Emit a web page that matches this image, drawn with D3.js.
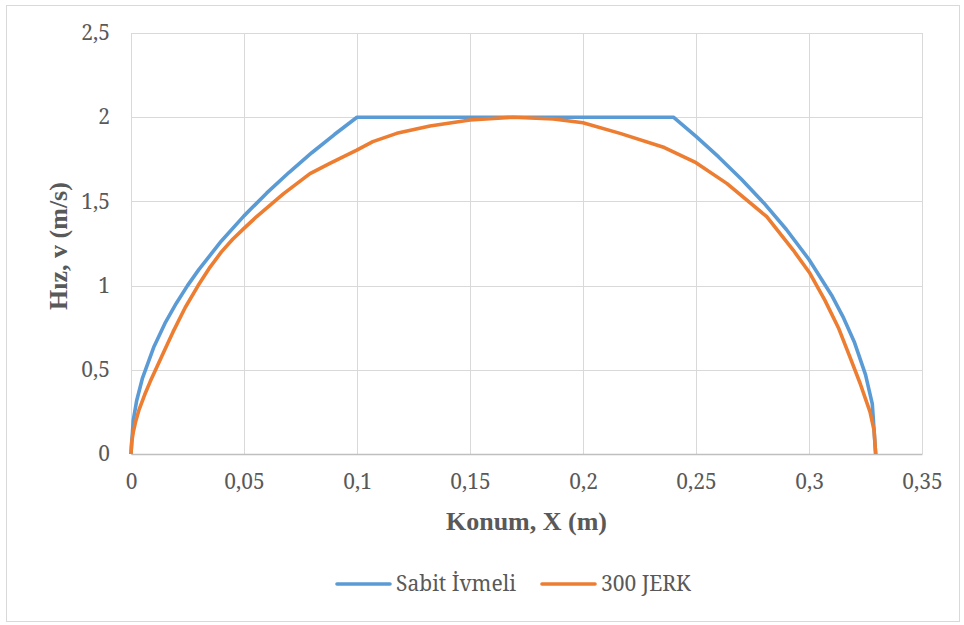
<!DOCTYPE html>
<html>
<head>
<meta charset="utf-8">
<script src="https://cdn.jsdelivr.net/npm/d3@7"></script>
<style>
  body { margin: 0; background: #fff; }
</style>
</head>
<body>
<div id="chart"></div>
<script>
// values
const xTicks = [0, 0.05, 0.1, 0.15, 0.2, 0.25, 0.3, 0.35];
const yTicks = [0, 0.5, 1, 1.5, 2, 2.5];

// Sabit İvmeli (blue)
const sabitX = [0, 0.001, 0.0025, 0.005, 0.01, 0.015, 0.02, 0.025, 0.03, 0.04, 0.05, 0.06, 0.07, 0.08, 0.09, 0.1,
                0.24, 0.25, 0.26, 0.27, 0.28, 0.29, 0.3, 0.31, 0.315, 0.32, 0.325, 0.328, 0.3295];
const sabitV = [0, 0.2, 0.316, 0.447, 0.632, 0.775, 0.894, 1.0, 1.095, 1.265, 1.414, 1.549, 1.673, 1.789, 1.897, 2.0,
                2.0, 1.886, 1.764, 1.633, 1.491, 1.333, 1.155, 0.943, 0.816, 0.667, 0.471, 0.298, 0];

// 300 JERK (orange)
const jerkX = [0, 0.0003, 0.001, 0.002, 0.0035, 0.006, 0.0085, 0.0114, 0.015, 0.0186, 0.024, 0.0297, 0.035, 0.04,
               0.045, 0.05, 0.0556, 0.0674, 0.0792, 0.088, 0.0999, 0.107, 0.1176, 0.1323, 0.15, 0.169, 0.1869, 0.2,
               0.2164, 0.236, 0.25, 0.2636, 0.2813, 0.293, 0.3004, 0.307, 0.313, 0.318, 0.3226, 0.327, 0.3288, 0.3295];
const jerkV = [0, 0.07, 0.13, 0.19, 0.26, 0.35, 0.43, 0.515, 0.62, 0.725, 0.87, 1.0, 1.11, 1.2,
               1.275, 1.34, 1.41, 1.545, 1.665, 1.726, 1.805, 1.855, 1.904, 1.948, 1.983, 2.0, 1.989, 1.967,
               1.904, 1.82, 1.73, 1.607, 1.409, 1.211, 1.073, 0.914, 0.75, 0.58, 0.42, 0.25, 0.14, 0];

const seriesNames = ['Sabit İvmeli', '300 JERK'];
const seriesColors = ['#5B9BD5', '#ED7D31'];

// regular Liberation Serif is not available here, Noto Serif stands in for Times
const serifRegular = '"Noto Serif", "DejaVu Serif", serif';
const serifBold = '"Liberation Serif", "Times New Roman", serif';

class VelocityChart {
  constructor(_config, _series) {
    this.config = {
      parentElement: _config.parentElement,
      containerWidth: _config.containerWidth || 964,
      containerHeight: _config.containerHeight || 625,
      margin: _config.margin || {top: 33, right: 42, bottom: 171, left: 131}
    };
    this.series = _series;
    this.initVis();
  }

  initVis() {
    let vis = this;
    vis.width = vis.config.containerWidth - vis.config.margin.left - vis.config.margin.right;
    vis.height = vis.config.containerHeight - vis.config.margin.top - vis.config.margin.bottom;

    vis.svg = d3.select(vis.config.parentElement)
      .append('svg')
      .attr('width', vis.config.containerWidth)
      .attr('height', vis.config.containerHeight);

    // outer chart border
    vis.svg.append('rect')
      .attr('x', 6.5).attr('y', 5.5)
      .attr('width', 953).attr('height', 616)
      .attr('fill', 'none')
      .attr('stroke', '#D9D9D9');

    vis.chart = vis.svg.append('g')
      .attr('transform', `translate(${vis.config.margin.left},${vis.config.margin.top})`);

    vis.xScale = d3.scaleLinear().domain([0, 0.35]).range([0, vis.width]);
    vis.yScale = d3.scaleLinear().domain([0, 2.5]).range([vis.height, 0]);

    const fmt = d => String(d).replace('.', ',');

    // gridlines
    vis.chart.append('g')
      .selectAll('line')
      .data(xTicks)
      .join('line')
      .attr('x1', d => Math.round(vis.xScale(d)) + 0.5)
      .attr('x2', d => Math.round(vis.xScale(d)) + 0.5)
      .attr('y1', 0).attr('y2', vis.height)
      .attr('stroke', '#D9D9D9');

    vis.chart.append('g')
      .selectAll('line')
      .data(yTicks)
      .join('line')
      .attr('x1', 0).attr('x2', vis.width)
      .attr('y1', d => Math.round(vis.yScale(d)) + 0.5)
      .attr('y2', d => Math.round(vis.yScale(d)) + 0.5)
      .attr('stroke', '#D9D9D9');

    vis.xAxis = d3.axisBottom(vis.xScale).tickValues(xTicks).tickFormat(fmt).tickSize(0).tickPadding(20);
    vis.yAxis = d3.axisLeft(vis.yScale).tickValues(yTicks).tickFormat(fmt).tickSize(0).tickPadding(21);

    vis.xAxisG = vis.chart.append('g')
      .attr('class', 'axis x-axis')
      .attr('transform', `translate(0,${vis.height})`);
    vis.yAxisG = vis.chart.append('g')
      .attr('class', 'axis y-axis');

    vis.xAxisG.call(vis.xAxis);
    vis.yAxisG.call(vis.yAxis);
    vis.xAxisG.select('.domain').attr('stroke', '#BFBFBF').attr('stroke-width', 1.5);
    vis.yAxisG.select('.domain').remove();
    vis.chart.selectAll('.axis')
      .attr('font-family', serifRegular)
      .attr('font-size', 21);
    vis.chart.selectAll('.tick text')
      .attr('fill', '#595959');

    // axis titles
    vis.svg.append('text')
      .attr('x', vis.config.margin.left + vis.width / 2)
      .attr('y', 530)
      .attr('text-anchor', 'middle')
      .attr('font-family', serifBold)
      .attr('font-weight', 'bold')
      .attr('font-size', 26)
      .attr('fill', '#595959')
      .text('Konum, X (m)');

    vis.svg.append('text')
      .attr('transform', `translate(67,246) rotate(-90)`)
      .attr('text-anchor', 'middle')
      .attr('font-family', serifBold)
      .attr('font-weight', 'bold')
      .attr('font-size', 26)
      .attr('fill', '#595959')
      .text('Hız, v (m/s)');
  }

  renderVis() {
    let vis = this;
    const line = d3.line()
      .x(d => vis.xScale(d[0]))
      .y(d => vis.yScale(d[1]));

    vis.chart.selectAll('.series')
      .data(vis.series)
      .join('path')
      .attr('class', 'series')
      .attr('d', s => line(s.points))
      .attr('fill', 'none')
      .attr('stroke', s => s.color)
      .attr('stroke-width', 3.6)
      .attr('stroke-linejoin', 'round');

    // legend
    const legend = vis.svg.append('g');
    const legendX = [337, 542];
    const items = legend.selectAll('g')
      .data(vis.series)
      .join('g')
      .attr('transform', (d, i) => `translate(${legendX[i]},584)`);
    items.append('line')
      .attr('x1', 0).attr('x2', 53)
      .attr('stroke', d => d.color)
      .attr('stroke-width', 3.6)
      .attr('stroke-linecap', 'round');
    items.append('text')
      .attr('x', 59)
      .attr('dy', '0.35em')
      .attr('font-family', serifRegular)
      .attr('font-size', 21)
      .attr('fill', '#595959')
      .text(d => d.name);
  }
}

const series = [
  {name: seriesNames[0], color: seriesColors[0], points: sabitX.map((x, i) => [x, sabitV[i]])},
  {name: seriesNames[1], color: seriesColors[1], points: jerkX.map((x, i) => [x, jerkV[i]])}
];

const chart = new VelocityChart({parentElement: '#chart'}, series);
chart.renderVis();
</script>
</body>
</html>
